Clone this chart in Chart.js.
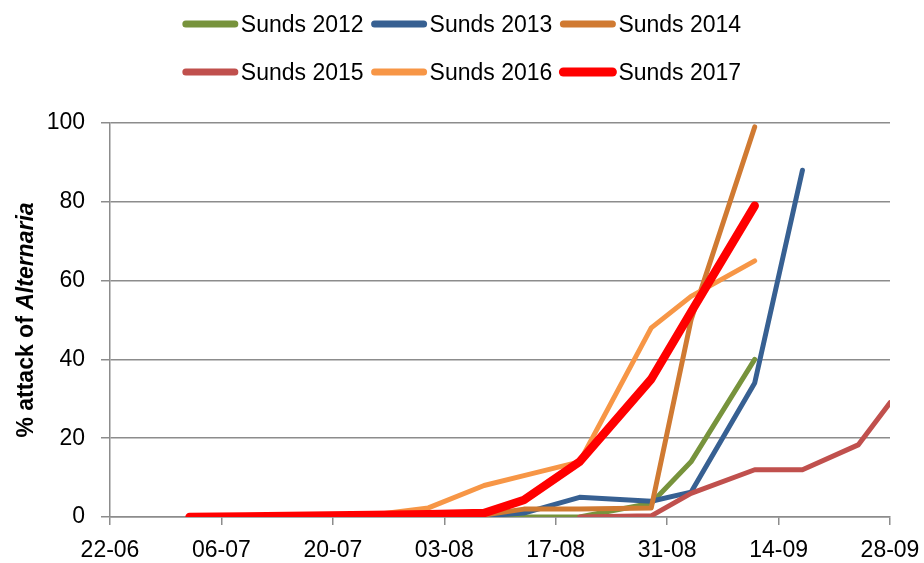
<!DOCTYPE html>
<html>
<head>
<meta charset="utf-8">
<script src="https://cdn.jsdelivr.net/npm/chart.js@4.4.0/dist/chart.umd.min.js"></script>
<style>
html,body{margin:0;padding:0;background:#fff;}
#wrap{width:924px;height:563px;}
</style>
</head>
<body>
<div id="wrap"><canvas id="c" width="924" height="563"></canvas></div>
<script>
// ---- data (x = days after 22-06, y = % attack) ----
const seriesNames = ['Sunds 2012', 'Sunds 2013', 'Sunds 2014', 'Sunds 2015', 'Sunds 2016', 'Sunds 2017'];
const seriesColors = ['#77933C', '#376092', '#D07A32', '#C0504D', '#F79646', '#FF0000'];

const days2012 = [33, 40, 47, 52, 59, 68, 73, 81];
const values2012 = [0, 0, 0, 0, 0, 3.5, 14, 40];

const days2013 = [33, 40, 47, 52, 59, 68, 73, 81, 87];
const values2013 = [0, 0, 0.3, 1, 5, 4, 6.3, 34, 88];

const days2014 = [33, 40, 47, 52, 59, 68, 73, 81];
const values2014 = [0, 0, 0.5, 2, 2, 2.3, 50, 99];

const days2015 = [59, 68, 73, 81, 87, 94, 98];
const values2015 = [0, 0.3, 6, 12, 12, 18.3, 29];

const days2016 = [10, 17, 25, 33, 40, 47, 52, 59, 68, 73, 81];
const values2016 = [0, 0, 0, 0.5, 2.3, 8, 10.5, 14, 48, 56, 65];

const days2017 = [10, 17, 25, 33, 40, 47, 52, 59, 68, 73, 81];
const values2017 = [0, 0.1, 0.3, 0.5, 0.7, 1, 4.3, 14, 35, 52, 79];

const xTickLabels = ['22-06', '06-07', '20-07', '03-08', '17-08', '31-08', '14-09', '28-09'];
const yTickLabels = ['0', '20', '40', '60', '80', '100'];
const yTitleMain = '% attack of ';
const yTitleItalic = 'Alternaria';

const allDays = [days2012, days2013, days2014, days2015, days2016, days2017];
const allValues = [values2012, values2013, values2014, values2015, values2016, values2017];
const widths = [5, 5, 5, 5, 5, 8.5];

const FONT = '"Liberation Sans", Arial, sans-serif';
Chart.defaults.font.family = FONT;

const datasets = seriesNames.map((name, i) => ({
  label: name,
  data: allDays[i].map((d, j) => ({x: d, y: allValues[i][j]})),
  borderColor: seriesColors[i],
  backgroundColor: seriesColors[i],
  borderWidth: widths[i],
  pointRadius: 0,
  tension: 0,
  fill: false,
  borderCapStyle: 'round',
  borderJoinStyle: 'round',
  order: seriesNames.length - 1 - i
}));

const customLegend = {
  id: 'customLegend',
  afterDraw(chart) {
    const ctx = chart.ctx;
    const ds = chart.data.datasets;
    ctx.save();
    ctx.font = '23px ' + FONT;
    ctx.textBaseline = 'alphabetic';
    ctx.fillStyle = '#000';
    const lineLen = 55, gap = 3, after = 8;
    const rows = [[0, 1, 2], [3, 4, 5]];
    const rowY = [24, 72];
    rows.forEach((row, r) => {
      const ws = row.map(i => lineLen + gap + ctx.measureText(ds[i].label).width);
      const total = ws.reduce((a, b) => a + b, 0) + after * (row.length - 1);
      let x = (chart.width - total) / 2;
      row.forEach((i, k) => {
        ctx.beginPath();
        ctx.strokeStyle = ds[i].borderColor;
        ctx.lineWidth = i === 5 ? 9 : 7;
        ctx.lineCap = 'round';
        ctx.moveTo(x + 3, rowY[r]);
        ctx.lineTo(x + lineLen - 3, rowY[r]);
        ctx.stroke();
        ctx.fillText(ds[i].label, x + lineLen + gap, rowY[r] + 8);
        x += ws[k] + after;
      });
    });
    ctx.restore();
  }
};

const yTitle = {
  id: 'yTitle',
  afterDraw(chart) {
    const ctx = chart.ctx;
    const ca = chart.chartArea;
    ctx.save();
    ctx.translate(33, (ca.top + ca.bottom) / 2);
    ctx.rotate(-Math.PI / 2);
    const f1 = 'bold 23px ' + FONT, f2 = 'italic bold 23px ' + FONT;
    ctx.font = f1; const w1 = ctx.measureText(yTitleMain).width;
    ctx.font = f2; const w2 = ctx.measureText(yTitleItalic).width;
    const x0 = -(w1 + w2) / 2;
    ctx.fillStyle = '#000';
    ctx.textBaseline = 'alphabetic';
    ctx.font = f1; ctx.fillText(yTitleMain, x0, 0);
    ctx.font = f2; ctx.fillText(yTitleItalic, x0 + w1, 0);
    ctx.restore();
  }
};

new Chart(document.getElementById('c'), {
  type: 'line',
  data: {datasets},
  options: {
    responsive: false,
    animation: false,
    devicePixelRatio: 1,
    layout: {padding: {left: 0, right: 34, top: 123, bottom: 0}},
    plugins: {legend: {display: false}, tooltip: {enabled: false}},
    scales: {
      x: {
        type: 'linear', min: 0, max: 98,
        ticks: {
          stepSize: 14, autoSkip: false, maxRotation: 0, padding: 12,
          color: '#000', font: {size: 23},
          callback: (v) => xTickLabels[Math.round(v / 14)]
        },
        grid: {display: true, drawOnChartArea: false, drawTicks: true, tickLength: 8, color: '#8c8c8c', lineWidth: 1.5},
        border: {display: true, color: '#8c8c8c', width: 1.5},
        afterFit: (s) => { s.height = 46; s.paddingLeft = 0; s.paddingRight = 0; }
      },
      y: {
        min: 0, max: 100,
        ticks: {
          stepSize: 20, padding: 16, color: '#000', font: {size: 23},
          callback: (v) => yTickLabels[Math.round(v / 20)]
        },
        grid: {color: '#8c8c8c', lineWidth: 1.5, tickLength: 9},
        border: {display: true, color: '#8c8c8c', width: 1.5},
        afterFit: (s) => { s.width = 110; }
      }
    }
  },
  plugins: [customLegend, yTitle]
});
</script>
</body>
</html>
